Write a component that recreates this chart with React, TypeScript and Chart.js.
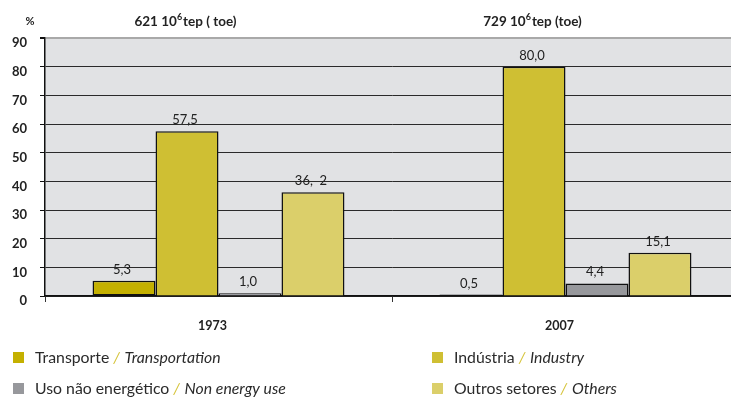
import React, { useEffect, useRef } from 'react';
import { Chart, registerables } from 'chart.js';

Chart.register(...registerables);

// ---- data ----
const categories = ['1973', '2007'];
const headerTotals = ['621', '729'];
const headerSuffixes = ['tep ( toe)', 'tep (toe)'];

const seriesPt = ['Transporte', 'Indústria', 'Uso não energético', 'Outros setores'];
const seriesEn = ['Transportation', 'Industry', 'Non energy use', 'Others'];
const seriesColors = ['#c4b000', '#cfbf33', '#97989c', '#dbcf6a'];

const transport = [5.3, 0.5];
const industry = [57.5, 80.0];
const nonEnergy = [1.0, 4.4];
const others = [36.2, 15.1];

const transportLabels = ['5,3', '0,5'];
const industryLabels = ['57,5', '80,0'];
const nonEnergyLabels = ['1,0', '4,4'];
const othersLabels = ['36,  2', '15,1'];

const yTicks = [0, 10, 20, 30, 40, 50, 60, 70, 80, 90];

const FONT = 'Lato, "Open Sans", sans-serif';

const seriesValues = [transport, industry, nonEnergy, others];
const seriesLabels = [transportLabels, industryLabels, nonEnergyLabels, othersLabels];

const bgPlugin = {
  id: 'plotBg',
  beforeDraw(chart: any) {
    const { ctx, chartArea } = chart;
    ctx.save();
    ctx.fillStyle = '#e1e2e4';
    ctx.fillRect(chartArea.left, chartArea.top, chartArea.right - chartArea.left, chartArea.bottom - chartArea.top);
    ctx.restore();
  },
};

const labelPlugin = {
  id: 'valueLabels',
  afterDatasetsDraw(chart: any) {
    const { ctx } = chart;
    ctx.save();
    ctx.font = `13px ${FONT}`;
    ctx.fillStyle = '#222';
    ctx.textAlign = 'center';
    ctx.textBaseline = 'alphabetic';
    chart.data.datasets.forEach((ds: any, di: number) => {
      const meta = chart.getDatasetMeta(di);
      meta.data.forEach((el: any, i: number) => {
        ctx.fillText(seriesLabels[di][i], el.x - 2, el.y - 7);
      });
    });
    ctx.restore();
  },
};

const headerPlugin = {
  id: 'headers',
  afterDraw(chart: any) {
    const { ctx } = chart;
    const xs = chart.scales.x;
    ctx.save();
    ctx.fillStyle = '#222';
    ctx.textBaseline = 'alphabetic';
    ctx.font = `bold 11px ${FONT}`;
    ctx.textAlign = 'center';
    ctx.fillText('%', 30, 25);
    ctx.textAlign = 'left';
    categories.forEach((_, i) => {
      const cx = xs.getPixelForValue(i) - 33;
      const main = `${headerTotals[i]} 10`;
      ctx.font = `bold 13.5px ${FONT}`;
      const w1 = ctx.measureText(main).width;
      ctx.font = `bold 9px ${FONT}`;
      const w2 = ctx.measureText('6').width;
      ctx.font = `bold 13.5px ${FONT}`;
      const w3 = ctx.measureText(headerSuffixes[i]).width;
      const total = w1 + w2 + 1 + w3;
      let x = cx - total / 2;
      const y = 26;
      ctx.fillText(main, x, y);
      x += w1;
      ctx.font = `bold 9px ${FONT}`;
      ctx.fillText('6', x, y - 6);
      x += w2 + 1;
      ctx.font = `bold 13.5px ${FONT}`;
      ctx.fillText(headerSuffixes[i], x, y);
    });
    ctx.restore();
  },
};

const legendPlugin = {
  id: 'customLegend',
  afterDraw(chart: any) {
    const { ctx } = chart;
    const cols = [13, 432];
    const rows = [352, 383];
    const order = [0, 1, 2, 3];
    ctx.save();
    ctx.textBaseline = 'alphabetic';
    ctx.textAlign = 'left';
    order.forEach((si, k) => {
      const col = cols[k % 2];
      const row = rows[Math.floor(k / 2)];
      ctx.fillStyle = seriesColors[si];
      ctx.fillRect(col, row, 11, 11);
      let x = col + 22;
      const y = row + 11;
      ctx.font = `15.8px ${FONT}`;
      ctx.fillStyle = '#2a2a2a';
      const pt = seriesPt[si] + ' ';
      ctx.fillText(pt, x, y);
      x += ctx.measureText(pt).width;
      ctx.font = `italic 15.8px ${FONT}`;
      ctx.fillStyle = '#d6c43c';
      ctx.fillText('/', x, y);
      x += ctx.measureText('/ ').width + 1;
      ctx.fillStyle = '#2a2a2a';
      ctx.fillText(seriesEn[si], x, y);
    });
    ctx.restore();
  },
};

export default function App() {
  const ref = useRef<HTMLCanvasElement | null>(null);
  useEffect(() => {
    if (!ref.current) return;
    const chart = new Chart(ref.current, {
      type: 'bar',
      data: {
        labels: categories,
        datasets: seriesValues.map((vals, i) => ({
          label: `${seriesPt[i]} / ${seriesEn[i]}`,
          data: vals,
          backgroundColor: seriesColors[i],
          borderColor: '#111',
          borderWidth: 1.5,
          borderSkipped: i === 0 ? false : 'start',
          categoryPercentage: 0.726,
          barPercentage: 1,
        })),
      },
      options: {
        responsive: false,
        animation: false,
        devicePixelRatio: 1,
        layout: { padding: { left: 0, top: 38, right: 6, bottom: 62 } },
        plugins: {
          legend: { display: false },
          tooltip: { enabled: false },
          title: { display: false },
        },
        scales: {
          x: {
            offset: true,
            grid: {
              display: true,
              offset: true,
              drawOnChartArea: false,
              drawTicks: true,
              tickLength: 6,
              color: '#333',
            },
            border: { display: true, color: '#111', width: 1.5 },
            ticks: {
              font: { family: FONT, size: 12.5, weight: 'bold' },
              color: '#222',
              padding: 16,
              labelOffset: -6,
            },
            afterFit(scale: any) {
              scale.height = 40;
            },
          },
          y: {
            min: 0,
            max: 90,
            afterBuildTicks(scale: any) {
              scale.ticks = yTicks.map((v) => ({ value: v }));
            },
            grid: {
              color: (c: any) => (c.tick && c.tick.value === 90 ? '#a9a9a9' : '#2a2a2a'),
              lineWidth: (c: any) => (c.tick && c.tick.value === 90 ? 2 : 1),
              tickLength: 5,
              tickColor: '#111',
            },
            border: { display: true, color: '#111', width: 1.5 },
            ticks: {
              font: { family: FONT, size: 13, weight: 'bold' },
              color: '#222',
              padding: 13,
              labelOffset: 5,
            },
            afterFit(scale: any) {
              scale.width = 45;
            },
          },
        },
      },
      plugins: [bgPlugin, labelPlugin, headerPlugin, legendPlugin],
    } as any);
    return () => chart.destroy();
  }, []);
  return (
    <div
      style={{
        position: 'fixed',
        left: 0,
        top: 0,
        width: 731,
        height: 398,
        overflow: 'hidden',
        background: '#fff',
      }}
    >
      <canvas ref={ref} width={745} height={398} style={{ display: 'block' }} />
    </div>
  );
}
